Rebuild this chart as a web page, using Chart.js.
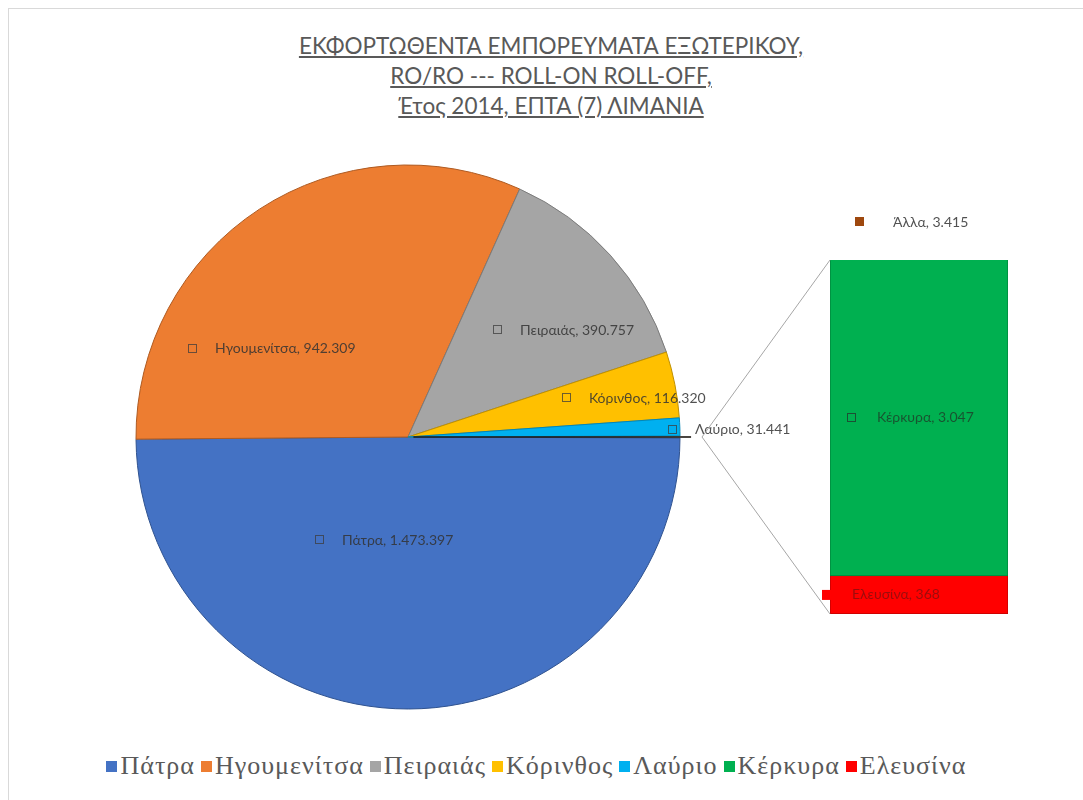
<!DOCTYPE html>
<html lang="el">
<head>
<meta charset="utf-8">
<title>RO/RO 2014</title>
<script src="https://cdn.jsdelivr.net/npm/chart.js@4.4.1/dist/chart.umd.min.js"></script>
<style>
  body { margin: 0; background: #fff; }
  #wrap { position: relative; width: 1083px; height: 800px; overflow: hidden; }
  #frame { position: absolute; left: 8px; top: 8px; right: -2px; bottom: -2px;
    border-top: 1px solid #d9d9d9; border-left: 1px solid #d9d9d9; }
  #title { position: absolute; left: 0; width: 1102px; top: 31px; text-align: center;
    font-family: Lato, "Open Sans", sans-serif; font-size: 22.5px; line-height: 30px;
    color: #595959; text-decoration: underline; }
  #pieCanvas { position: absolute; left: 8px; top: 149px; }
  #barCanvas { position: absolute; left: 690px; top: 200px; }
  #legend { position: absolute; left: 0; width: 1073px; top: 751px; display: flex;
    justify-content: center; font-family: "Liberation Serif", "DejaVu Serif", serif;
    font-size: 26px; letter-spacing: 1px; color: #595959; }
  #legend span.item { display: flex; align-items: center; margin: 0 3px; }
  #legend span.box { display: inline-block; width: 11px; height: 11px; margin-right: 3px; }
</style>
</head>
<body>
<div id="wrap">
  <div id="frame"></div>
  <div id="title">ΕΚΦΟΡΤΩΘΕΝΤΑ ΕΜΠΟΡΕΥΜΑΤΑ ΕΞΩΤΕΡΙΚΟΥ,<br>RO/RO --- ROLL-ON ROLL-OFF,<br>Έτος 2014, ΕΠΤΑ (7) ΛΙΜΑΝΙΑ</div>
  <canvas id="pieCanvas" width="800" height="576"></canvas>
  <canvas id="barCanvas" width="360" height="440"></canvas>
  <div id="legend"></div>
</div>
<script>
// pie: the last slice "Άλλα" is split out into the bar
const pieLabels = ["Πάτρα", "Ηγουμενίτσα", "Πειραιάς", "Κόρινθος", "Λαύριο", "Άλλα"];
const pieValues = [1473397, 942309, 390757, 116320, 31441, 3415];
const barLabels = ["Κέρκυρα", "Ελευσίνα"];
const barValues = [3047, 368];

const pieColors = ["#4472C4", "#ED7D31", "#A5A5A5", "#FFC000", "#00B0F0", "#9E480E"];
const pieBorders = ["#2F528F", "#AE5A21", "#7B7B7B", "#BF9000", "#0086B8", "#1a1a1a"];
const barColors = ["#00B050", "#FF0000"];
const barBorders = ["#00843C", "#C00000"];

// label spots, as fractions of the pie radius from the centre (text start, middle)
const pieLabelPos = [[-0.243, 0.379], [-0.71, -0.324], [0.412, -0.393], [0.665, -0.143], [1.055, -0.026]];

function fmt(n) {
  return String(n).replace(/\B(?=(\d{3})+(?!\d))/g, ".");
}

const pieTotal = pieValues.reduce((a, b) => a + b, 0);
const otherTotal = barValues.reduce((a, b) => a + b, 0);
const otherIdx = pieLabels.length - 1;

const labelFont = "14px Lato, 'Open Sans', sans-serif";
const labelColor = "rgba(50,50,50,0.85)";

const pieLabelPlugin = {
  id: "pieLabels",
  afterDatasetsDraw(chart) {
    const ctx = chart.ctx;
    const arcs = chart.getDatasetMeta(0).data;
    ctx.save();
    ctx.font = labelFont;
    ctx.textBaseline = "middle";
    pieLabelPos.forEach((p, i) => {
      const arc = arcs[i];
      const x = arc.x + p[0] * arc.outerRadius;
      const y = arc.y + p[1] * arc.outerRadius;
      ctx.strokeStyle = "rgba(60,60,60,0.75)";
      ctx.lineWidth = 1;
      ctx.strokeRect(Math.round(x - 27) + 0.5, Math.round(y - 5) + 0.5, 8, 8);
      ctx.fillStyle = labelColor;
      ctx.fillText(pieLabels[i] + ", " + fmt(pieValues[i]), x, y);
    });
    ctx.restore();
  },
};

const pieChart = new Chart(document.getElementById("pieCanvas"), {
  type: "pie",
  data: {
    labels: pieLabels,
    datasets: [
      {
        data: pieValues,
        backgroundColor: pieColors,
        borderColor: pieBorders,
        borderWidth: 1,
        offset: pieValues.map((v, i) => (i === otherIdx ? 22 : 0)),
      },
    ],
  },
  options: {
    responsive: false,
    animation: false,
    radius: 272,
    rotation: 90 + (360 * pieValues[otherIdx]) / pieTotal / 2,
    layout: { padding: 0 },
    plugins: { legend: { display: false }, tooltip: { enabled: false } },
  },
  plugins: [pieLabelPlugin],
});

// connectors from the split slice to the bar, plus the bar labels
const barExtras = {
  id: "barExtras",
  afterDatasetsDraw(chart) {
    const ctx = chart.ctx;
    const pieEl = document.getElementById("pieCanvas");
    const barEl = document.getElementById("barCanvas");
    const dx = pieEl.offsetLeft - barEl.offsetLeft;
    const dy = pieEl.offsetTop - barEl.offsetTop;
    const arc = pieChart.getDatasetMeta(0).data[otherIdx];
    const mid = (arc.startAngle + arc.endAngle) / 2;
    const r = arc.outerRadius + arc.options.offset;
    const tipX = arc.x + r * Math.cos(mid) + dx;
    const tipY = arc.y + r * Math.sin(mid) + dy;

    const bars = chart.data.datasets.map((d, i) => chart.getDatasetMeta(i).data[0]);
    const left = bars[0].x - bars[0].width / 2;
    const top = Math.min(...bars.map((b) => Math.min(b.y, b.base)));
    const bottom = Math.max(...bars.map((b) => Math.max(b.y, b.base)));

    ctx.save();
    ctx.strokeStyle = "#A6A6A6";
    ctx.lineWidth = 1;
    ctx.beginPath();
    ctx.moveTo(tipX, tipY);
    ctx.lineTo(left, top);
    ctx.moveTo(tipX, tipY);
    ctx.lineTo(left, bottom);
    ctx.stroke();

    ctx.font = labelFont;
    ctx.textBaseline = "middle";
    // Κέρκυρα: hollow key inside the bar
    const b0 = bars[0];
    const y0 = (b0.y + b0.base) / 2;
    ctx.strokeStyle = "rgba(40,40,40,0.7)";
    ctx.strokeRect(Math.round(left + 17) + 0.5, Math.round(y0 - 5) + 0.5, 8, 8);
    ctx.fillStyle = "rgba(30,60,40,0.8)";
    ctx.fillText(barLabels[0] + ", " + fmt(barValues[0]), left + 47, y0);
    // Ελευσίνα: filled key sitting on the left edge
    const b1 = bars[1];
    const y1 = (b1.y + b1.base) / 2;
    ctx.fillStyle = barColors[1];
    ctx.fillRect(left - 8, y1 - 5, 10, 10);
    ctx.fillStyle = "rgba(90,20,20,0.6)";
    ctx.fillText(barLabels[1] + ", " + fmt(barValues[1]), left + 22, y1);
    // Άλλα label above the bar
    ctx.fillStyle = pieColors[otherIdx];
    ctx.fillRect(left + 25, top - 43, 9, 9);
    ctx.fillStyle = labelColor;
    ctx.fillText(pieLabels[otherIdx] + ", " + fmt(pieValues[otherIdx]), left + 63, top - 38);
    ctx.restore();
  },
};

new Chart(document.getElementById("barCanvas"), {
  type: "bar",
  data: {
    labels: [pieLabels[otherIdx]],
    datasets: barLabels.map((name, i) => ({
      label: name,
      data: [barValues[i]],
      backgroundColor: barColors[i],
      borderColor: barBorders[i],
      borderWidth: 1,
      barPercentage: 1,
      categoryPercentage: 1,
    })),
  },
  options: {
    responsive: false,
    animation: false,
    layout: { padding: { left: 140, right: 42, top: 60, bottom: 26 } },
    scales: {
      x: { display: false, stacked: true },
      y: { display: false, stacked: true, min: 0, max: otherTotal, reverse: true },
    },
    plugins: { legend: { display: false }, tooltip: { enabled: false } },
  },
  plugins: [barExtras],
});

// legend: pie slices without "Άλλα", then the bar parts
const legendNames = pieLabels.slice(0, otherIdx).concat(barLabels);
const legendColors = pieColors.slice(0, otherIdx).concat(barColors);
const legend = document.getElementById("legend");
legendNames.forEach((name, i) => {
  const item = document.createElement("span");
  item.className = "item";
  item.innerHTML = `<span class="box" style="background:${legendColors[i]}"></span>${name}`;
  legend.appendChild(item);
});
</script>
</body>
</html>
